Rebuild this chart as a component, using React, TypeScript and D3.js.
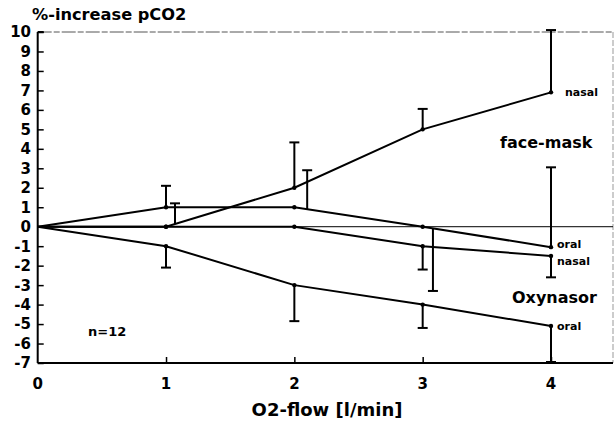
import React, { useEffect, useRef } from 'react';
import * as d3 from 'd3';

// O2 flow (l/min)
const flow = [0, 1, 2, 3, 4];

// mean %-increase of pCO2
const maskNasal = [0, 0, 2, 5, 6.9];
const maskOral = [0, 1, 1, 0, -1.05];
const oxyNasal = [0, 0, 0, -1, -1.5];
const oxyOral = [0, -1, -3, -4, -5.1];

// error bars: flow position and end value (bars start on the line)
const maskNasalErrX = [1.07, 2, 3, 4];
const maskNasalErrEnd = [1.2, 4.33, 6.05, 10.1];
const maskOralErrX = [1, 2.1, 3.08, 4];
const maskOralErrEnd = [2.1, 2.9, -3.3, 3.05];
const oxyNasalErrX = [3, 4];
const oxyNasalErrEnd = [-2.2, -2.6];
const oxyOralErrX = [1, 2, 3, 4];
const oxyOralErrEnd = [-2.1, -4.85, -5.2, -6.95];

const yTicks = d3.range(-7, 11);
const xTicks = [0, 1, 2, 3, 4];

const FONT = '"DejaVu Sans", Verdana, sans-serif';

const App = () => {
    const svgRef = useRef<SVGSVGElement>(null);

    useEffect(() => {
        const svg = d3.select(svgRef.current);
        svg.selectAll('*').remove();

        const x = d3.scaleLinear().domain([0, 4]).range([37.7, 551]);
        const y = d3.scaleLinear().domain([-7, 10]).range([363, 32]);
        const xRight = 613;

        // frame: top and right borders are faint
        svg.append('line')
            .attr('x1', x(0)).attr('x2', xRight)
            .attr('y1', y(10)).attr('y2', y(10))
            .attr('stroke', '#555').attr('stroke-width', 1)
            .attr('stroke-dasharray', '14,2,6,2');
        svg.append('line')
            .attr('x1', xRight).attr('x2', xRight)
            .attr('y1', y(10)).attr('y2', y(-7))
            .attr('stroke', '#999').attr('stroke-width', 1)
            .attr('stroke-dasharray', '6,2');

        // zero line
        svg.append('line')
            .attr('x1', x(0)).attr('x2', xRight)
            .attr('y1', y(0)).attr('y2', y(0))
            .attr('stroke', '#000').attr('stroke-width', 1);

        // y axis
        const yAxis = svg.append('g')
            .attr('transform', `translate(${x(0)},0)`)
            .call(d3.axisRight(y).tickValues(yTicks).tickSize(6).tickFormat(() => ''));
        yAxis.select('.domain').attr('stroke-width', 2).attr('d', `M0,${y(10)}H6M0,${y(10)}V${y(-7)}`);
        yAxis.selectAll('.tick line').attr('stroke-width', 1.5);

        svg.append('g')
            .selectAll('text')
            .data(yTicks)
            .enter()
            .append('text')
            .attr('x', 31)
            .attr('y', d => y(d))
            .attr('dy', '0.36em')
            .attr('text-anchor', 'end')
            .attr('font-family', FONT)
            .attr('font-weight', 'bold')
            .attr('font-size', 15)
            .text(d => d);

        // x axis
        const xAxis = svg.append('g')
            .attr('transform', `translate(0,${y(-7)})`)
            .call(d3.axisTop(x).tickValues(xTicks.slice(1)).tickSize(6).tickFormat(() => ''));
        xAxis.select('.domain').attr('stroke-width', 2).attr('d', `M${x(0)},0H${xRight}`);
        xAxis.selectAll('.tick line').attr('stroke-width', 1.5);

        svg.append('g')
            .selectAll('text')
            .data(xTicks)
            .enter()
            .append('text')
            .attr('x', d => x(d))
            .attr('y', 389)
            .attr('text-anchor', 'middle')
            .attr('font-family', FONT)
            .attr('font-weight', 'bold')
            .attr('font-size', 15)
            .text(d => d);

        const line = d3.line<number>()
            .x((_, i) => x(flow[i]))
            .y(d => y(d));

        const interp = (vals: number[], fx: number) => {
            const i = Math.min(Math.floor(fx), flow.length - 2);
            const t = fx - flow[i];
            return vals[i] + (vals[i + 1] - vals[i]) * t;
        };

        const series = [
            { vals: maskNasal, ex: maskNasalErrX, ee: maskNasalErrEnd },
            { vals: maskOral, ex: maskOralErrX, ee: maskOralErrEnd },
            { vals: oxyNasal, ex: oxyNasalErrX, ee: oxyNasalErrEnd },
            { vals: oxyOral, ex: oxyOralErrX, ee: oxyOralErrEnd },
        ];

        series.forEach(s => {
            svg.append('path')
                .datum(s.vals)
                .attr('d', line)
                .attr('fill', 'none')
                .attr('stroke', '#000')
                .attr('stroke-width', 2);

            svg.append('g')
                .selectAll('circle')
                .data(s.vals.slice(1))
                .enter()
                .append('circle')
                .attr('cx', (_, i) => x(flow[i + 1]))
                .attr('cy', d => y(d))
                .attr('r', 2.2)
                .attr('fill', '#000');

            const bars = svg.append('g')
                .selectAll('g')
                .data(s.ex.map((fx, i) => ({ fx, base: interp(s.vals, fx), end: s.ee[i] })))
                .enter()
                .append('g');
            bars.append('line')
                .attr('x1', d => x(d.fx)).attr('x2', d => x(d.fx))
                .attr('y1', d => y(d.base)).attr('y2', d => y(d.end))
                .attr('stroke', '#000').attr('stroke-width', 2);
            bars.append('line')
                .attr('x1', d => x(d.fx) - 5).attr('x2', d => x(d.fx) + 5)
                .attr('y1', d => y(d.end)).attr('y2', d => y(d.end))
                .attr('stroke', '#000').attr('stroke-width', 2);
        });

        const label = (tx: number, ty: number, text: string, size: number) => {
            svg.append('text')
                .attr('x', tx)
                .attr('y', ty)
                .attr('dy', '0.36em')
                .attr('font-family', FONT)
                .attr('font-weight', 'bold')
                .attr('font-size', size)
                .text(text);
        };

        label(32, 14, '%-increase pCO2', 16.2);
        label(565, y(6.9), 'nasal', 11);
        label(500, 142, 'face-mask', 16);
        label(557, 244, 'oral', 11);
        label(557, 261, 'nasal', 11);
        label(512, 297, 'Oxynasor', 16);
        label(557, 326, 'oral', 11);
        label(88, 331, 'n=12', 13);

        svg.append('text')
            .attr('x', 327)
            .attr('y', 410)
            .attr('dy', '0.36em')
            .attr('text-anchor', 'middle')
            .attr('font-family', FONT)
            .attr('font-weight', 'bold')
            .attr('font-size', 18)
            .text('O2-flow [l/min]');
    }, []);

    return (
        <svg
            ref={svgRef}
            width={615}
            height={424}
            style={{ position: 'absolute', top: 0, left: 0, background: '#fff' }}
        ></svg>
    );
};

export default App;
